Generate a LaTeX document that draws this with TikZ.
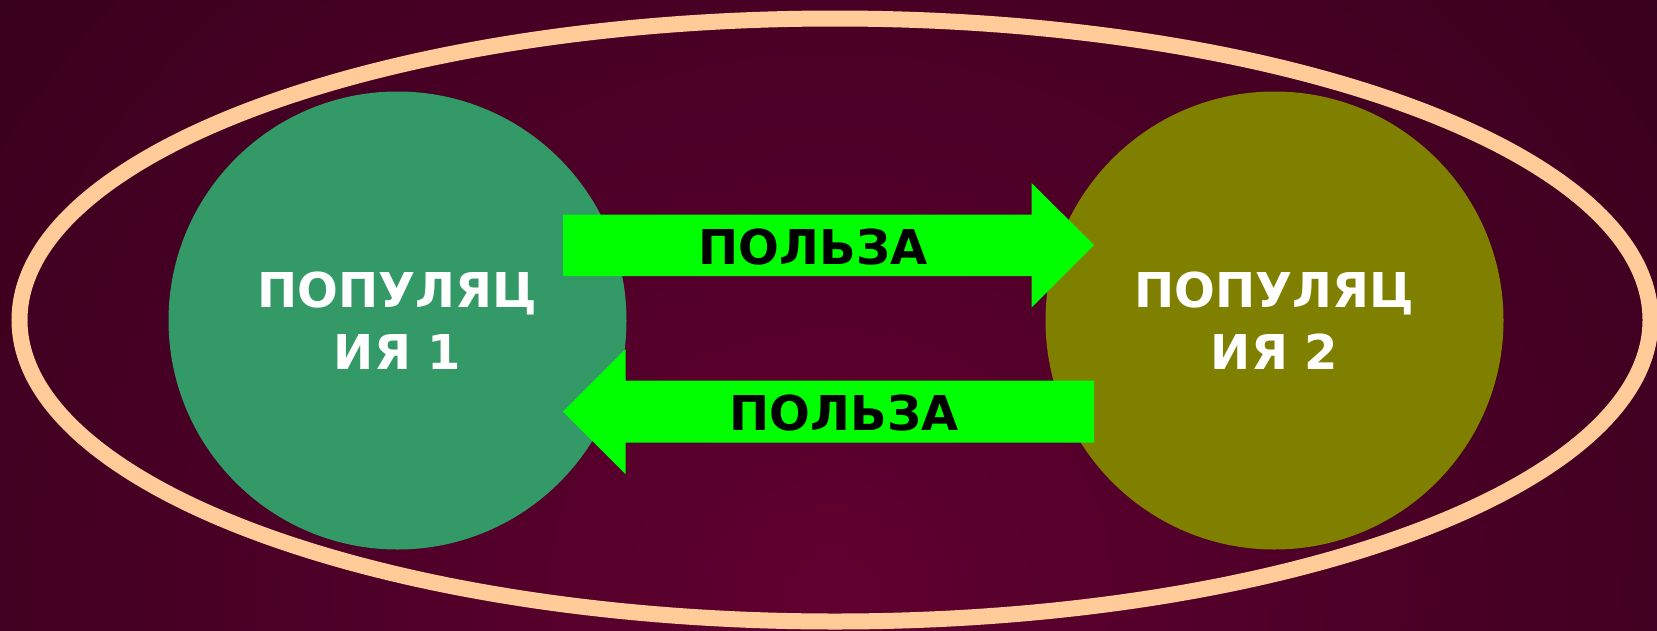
\documentclass[tikz,border=0pt]{standalone}
\usepackage{fontspec}
\setmainfont{DejaVu Sans}
\definecolor{bgin}{RGB}{96,0,48}
\definecolor{bgout}{RGB}{42,0,22}
\definecolor{peach}{RGB}{255,204,153}
\definecolor{popgreen}{RGB}{51,153,102}
\definecolor{popolive}{RGB}{128,128,0}
\definecolor{arrgreen}{RGB}{0,255,0}
\tikzset{
  popcircle/.style={circle, minimum size=458pt, inner sep=0pt, text=white, align=center,
    font=\fontsize{48}{62}\selectfont\bfseries},
  benefit/.style={fill=arrgreen},
  benefitlabel/.style={anchor=base, text=black, inner sep=0pt,
    font=\fontsize{48}{62}\selectfont\bfseries}
}
\begin{document}
\begin{tikzpicture}[x=1pt,y=-1pt]
\useasboundingbox (0,0) rectangle (1657,630);
\fill[bgout] (0,0) rectangle (1657,630);
\begin{scope}
\clip (0,0) rectangle (1657,630);
\shade[inner color=bgin, outer color=bgout] (830,590) ellipse [x radius=1450, y radius=1350];
\end{scope}
\node[popcircle, fill=popgreen] (p1) at (397.5,320.5) {ПОПУЛЯЦ\\ИЯ 1};
\node[popcircle, fill=popolive] (p2) at (1274.5,320.5) {ПОПУЛЯЦ\\ИЯ 2};
\draw[peach, line width=16pt] (835,320) ellipse [x radius=815.5, y radius=301.5];
% arrow to the right
\fill[benefit] (563,214.5) -- (1031.5,214.5) -- (1031.5,183) -- (1094,245) -- (1031.5,307.5) -- (1031.5,276) -- (563,276) -- cycle;
\node[benefitlabel] (b1) at (813,264) {ПОЛЬЗА};
% arrow to the left
\fill[benefit] (1094,380.5) -- (625.5,380.5) -- (625.5,349) -- (563,411.5) -- (625.5,474) -- (625.5,442.5) -- (1094,442.5) -- cycle;
\node[benefitlabel] (b2) at (844,430) {ПОЛЬЗА};
\end{tikzpicture}
\end{document}
